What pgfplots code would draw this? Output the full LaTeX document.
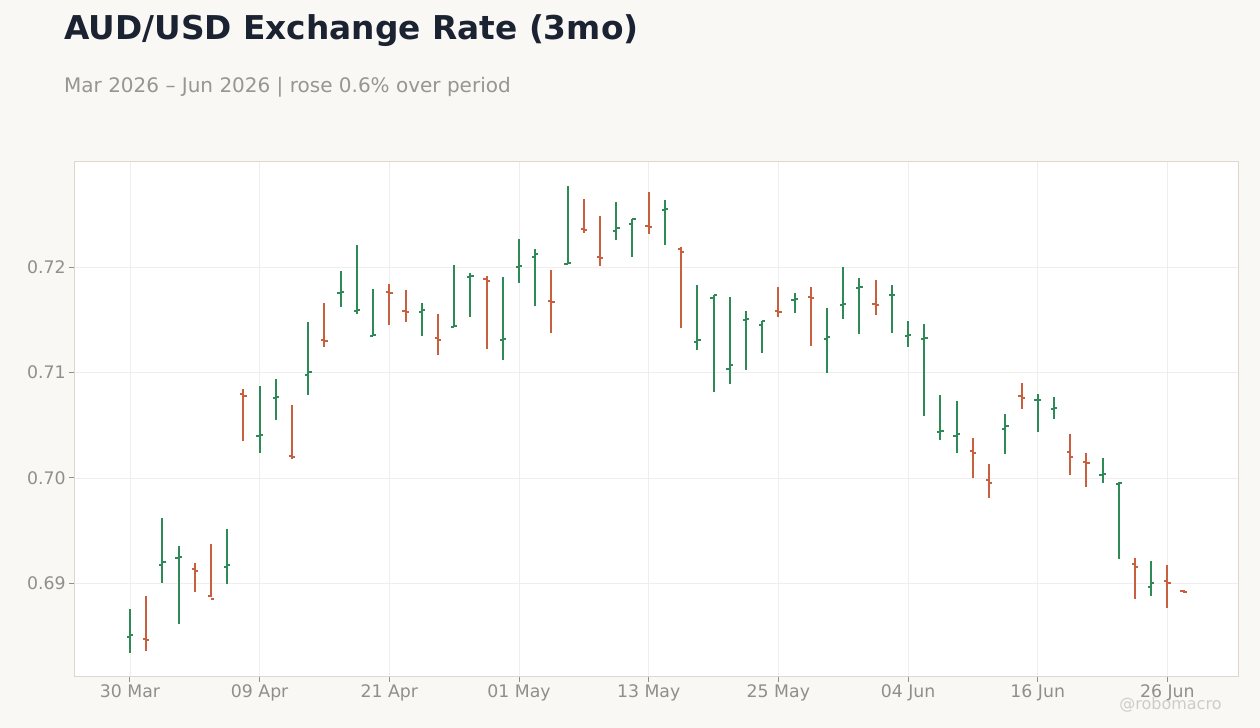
\documentclass[border=0pt]{standalone}
\usepackage{fontspec}
\setmainfont{DejaVu Sans}
\usepackage{pgfplots}
\pgfplotsset{compat=1.18}
\usepackage{pgfplotstable}
\definecolor{bg}{HTML}{F9F8F5}
\definecolor{titlec}{HTML}{1B2333}
\definecolor{subc}{HTML}{99958F}
\definecolor{tickc}{HTML}{928E89}
\definecolor{framec}{HTML}{DDD7CE}
\definecolor{gridc}{HTML}{EFEEEC}
\definecolor{upc}{HTML}{2E8B57}
\definecolor{downc}{HTML}{C8603F}
\definecolor{wmc}{HTML}{CFCCC8}

% i open high low close
\pgfplotstableread{
i o h l c
0 0.68492 0.68756 0.68340 0.68508
2 0.69178 0.69622 0.69006 0.69206
3 0.69240 0.69356 0.68613 0.69248
6 0.69156 0.69517 0.68997 0.69178
8 0.70397 0.70870 0.70235 0.70406
9 0.70762 0.70937 0.70550 0.70768
11 0.70978 0.71484 0.70789 0.71006
13 0.71758 0.71965 0.71619 0.71764
14 0.71588 0.72211 0.71553 0.71597
15 0.71350 0.71796 0.71348 0.71355
18 0.71572 0.71664 0.71346 0.71591
20 0.71435 0.72022 0.71433 0.71440
21 0.71910 0.71947 0.71525 0.71915
23 0.71306 0.71909 0.71117 0.71315
24 0.72003 0.72268 0.71855 0.72016
25 0.72101 0.72174 0.71637 0.72126
27 0.72032 0.72770 0.72030 0.72041
30 0.72347 0.72618 0.72262 0.72375
31 0.72413 0.72461 0.72101 0.72461
33 0.72546 0.72637 0.72215 0.72555
35 0.71293 0.71833 0.71211 0.71306
36 0.71713 0.71738 0.70817 0.71735
37 0.71032 0.71719 0.70890 0.71069
38 0.71500 0.71587 0.71022 0.71508
39 0.71457 0.71495 0.71183 0.71486
41 0.71694 0.71757 0.71571 0.71700
43 0.71315 0.71615 0.70994 0.71334
44 0.71640 0.72003 0.71514 0.71648
45 0.71805 0.71899 0.71363 0.71810
47 0.71735 0.71833 0.71372 0.71740
48 0.71349 0.71489 0.71244 0.71359
49 0.71321 0.71460 0.70587 0.71330
50 0.70440 0.70784 0.70359 0.70448
51 0.70397 0.70727 0.70235 0.70416
54 0.70463 0.70603 0.70225 0.70492
56 0.70737 0.70794 0.70435 0.70743
57 0.70654 0.70765 0.70559 0.70663
60 0.70032 0.70194 0.69952 0.70041
61 0.69940 0.69959 0.69229 0.69952
63 0.68965 0.69213 0.68883 0.69006
}\up

\pgfplotstableread{
i o h l c
1 0.68470 0.68879 0.68356 0.68460
4 0.69140 0.69194 0.68921 0.69117
5 0.68879 0.69375 0.68873 0.68851
7 0.70797 0.70841 0.70349 0.70778
10 0.70210 0.70689 0.70181 0.70200
12 0.71311 0.71664 0.71242 0.71296
16 0.71761 0.71843 0.71450 0.71755
17 0.71582 0.71786 0.71478 0.71572
19 0.71327 0.71560 0.71167 0.71308
22 0.71893 0.71918 0.71223 0.71874
26 0.71685 0.71975 0.71372 0.71675
28 0.72360 0.72647 0.72328 0.72353
29 0.72095 0.72486 0.72016 0.72085
32 0.72394 0.72713 0.72319 0.72385
34 0.72177 0.72189 0.71420 0.72148
40 0.71585 0.71814 0.71533 0.71575
42 0.71722 0.71814 0.71249 0.71713
46 0.71653 0.71880 0.71543 0.71647
52 0.70254 0.70375 0.69997 0.70235
53 0.69978 0.70137 0.69806 0.69949
55 0.70778 0.70898 0.70654 0.70759
58 0.70244 0.70422 0.70025 0.70197
59 0.70149 0.70241 0.69911 0.70140
62 0.69184 0.69241 0.68854 0.69159
64 0.69022 0.69175 0.68768 0.69006
65 0.68930 0.68933 0.68911 0.68917
}\down

\pgfplotsset{
  hl/.style={draw=none, mark=none, forget plot,
    error bars/.cd, y dir=minus, y explicit, error mark=none,
    error bar style={line width=2bp, color=#1}},
  ot/.style={draw=none, mark=none, forget plot,
    error bars/.cd, x dir=minus, x fixed=0.2, error mark=none,
    error bar style={line width=2bp, color=#1}},
  ct/.style={draw=none, mark=none, forget plot,
    error bars/.cd, x dir=plus, x fixed=0.2, error mark=none,
    error bar style={line width=2bp, color=#1}},
}

\begin{document}
\begin{tikzpicture}
\fill[bg] (0bp,0bp) rectangle (1260bp,728bp);
\useasboundingbox (0bp,0bp) rectangle (1260bp,728bp);
\node[anchor=base west, inner sep=0, text=titlec,
  font=\fontsize{32.8bp}{40bp}\selectfont\bfseries] at (64bp,688.7bp) {AUD/USD Exchange Rate (3mo)};
\node[anchor=base west, inner sep=0, text=subc,
  font=\fontsize{20bp}{24bp}\selectfont] at (64bp,635.7bp) {Mar 2026 – Jun 2026 | rose 0.6\% over period};
\begin{axis}[
  at={(74.7bp,52bp)}, anchor=south west, scale only axis,
  width=1164bp, height=514bp,
  xmin=-3.41, xmax=68.40, ymin=0.6812, ymax=0.7300,
  axis background/.style={fill=white},
  axis line style={framec, line width=1bp},
  xtick={0,8,16,24,32,40,48,56,64},
  xticklabels={30 Mar,09 Apr,21 Apr,01 May,13 May,25 May,04 Jun,16 Jun,26 Jun},
  ytick={0.69,0.70,0.71,0.72},
  yticklabel style={/pgf/number format/.cd, fixed, fixed zerofill, precision=2, assume math mode=true},
  tick label style={font=\fontsize{17.3bp}{20bp}\selectfont, text=tickc},
  tick align=outside, major tick length=5.5bp,
  tick style={tickc, line width=1bp},
  xtick pos=bottom, ytick pos=left,
  grid=major, major grid style={gridc, line width=0.9bp},
  clip=false,
]
\addplot[hl=upc] table[x=i, y=h, y error minus expr=\thisrow{h}-\thisrow{l}] {\up};
\addplot[ot=upc] table[x=i, y=o] {\up};
\addplot[ct=upc] table[x=i, y=c] {\up};
\addplot[hl=downc] table[x=i, y=h, y error minus expr=\thisrow{h}-\thisrow{l}] {\down};
\addplot[ot=downc] table[x=i, y=o] {\down};
\addplot[ct=downc] table[x=i, y=c] {\down};
\end{axis}
\node[anchor=base east, inner sep=0, text=wmc,
  font=\fontsize{16bp}{19bp}\selectfont] at (1221.7bp,19bp) {@robomacro};
\end{tikzpicture}
\end{document}
